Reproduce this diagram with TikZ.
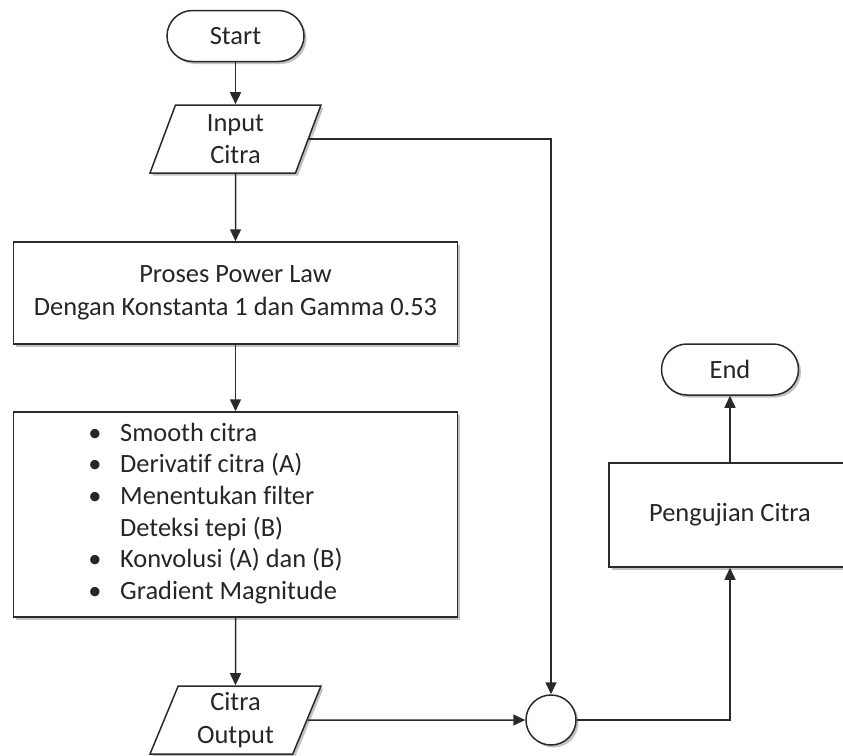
\documentclass[tikz,border=0pt]{standalone}
\usepackage{fontspec}
\setmainfont{Carlito}[Ligatures=NoCommon]
\usetikzlibrary{shapes.geometric,shadows,arrows.meta}
\definecolor{ink}{HTML}{2A2A2A}
\definecolor{txt}{HTML}{262626}
\begin{document}
\begin{tikzpicture}[x=1pt,y=-1pt,
  every node/.style={font=\fontsize{26.4}{32.5}\selectfont, text=txt},
  shadowed/.style={drop shadow={shadow xshift=2.5pt,shadow yshift=-2.5pt,opacity=0.4,fill=black!60}},
  boxbase/.style={draw=ink, line width=1.5pt, fill=white, shadowed},
  procbox/.style={boxbase, rectangle, inner sep=0pt, align=center},
  termbox/.style={boxbase, rectangle, rounded corners=25.5pt, minimum width=137pt, minimum height=51pt, inner sep=0pt},
  iobox/.style={boxbase, trapezium, trapezium left angle=62.8, trapezium right angle=117.2, trapezium stretches body, minimum width=171pt, minimum height=68pt, inner sep=0pt, align=center},
  joinc/.style={boxbase, circle, minimum size=50pt, inner sep=0pt},
  conn/.style={draw=ink, line width=1.5pt},
  arr/.style={conn, -{Triangle[width=11pt,length=12pt]}},
  bul/.style={anchor=base, inner sep=0pt},
  itemtxt/.style={anchor=base west, inner sep=0pt}
]
\useasboundingbox (0,0) rectangle (843,755);

\node[termbox] (start) at (235.5,36) {Start};
\node[iobox] (input) at (235.5,139) {Input\\Citra};
\node[procbox, minimum width=444pt, minimum height=102pt] (power) at (235.5,293) {Proses Power Law\\Dengan Konstanta 1 dan Gamma 0.53};
\node[procbox, minimum width=444pt, minimum height=205pt] (steps) at (235.5,514.5) {};

\node[bul] (b1) at (95,441) {•};
\node[itemtxt] (t1) at (120,441) {Smooth citra};
\node[bul] (b2) at (95,472.7) {•};
\node[itemtxt] (t2) at (120,472.7) {Derivatif citra (A)};
\node[bul] (b3) at (95,504.4) {•};
\node[itemtxt] (t3) at (120,504.4) {Menentukan filter};
\node[itemtxt] (t4) at (120,536.1) {Deteksi tepi (B)};
\node[bul] (b5) at (95,567.8) {•};
\node[itemtxt] (t5) at (120,567.8) {Konvolusi (A) dan (B)};
\node[bul] (b6) at (95,599.5) {•};
\node[itemtxt] (t6) at (120,599.5) {Gradient Magnitude};

\node[iobox] (output) at (235.5,720) {Citra\\Output};
\node[joinc] (join) at (551,720) {};
\node[procbox, minimum width=242pt, minimum height=104pt] (test) at (730,515) {Pengujian Citra};
\node[termbox] (end) at (730,369.5) {End};

\draw[arr] (start) -- (input);
\draw[arr] (input) -- (power);
\draw[arr] (input.east) -| (join.north);
\draw[arr] (power) -- (steps);
\draw[arr] (steps) -- (output);
\draw[arr] (output.east) -- (join.west);
\draw[arr] (join.east) -| (test.south);
\draw[arr] (test) -- (end);
\end{tikzpicture}
\end{document}
